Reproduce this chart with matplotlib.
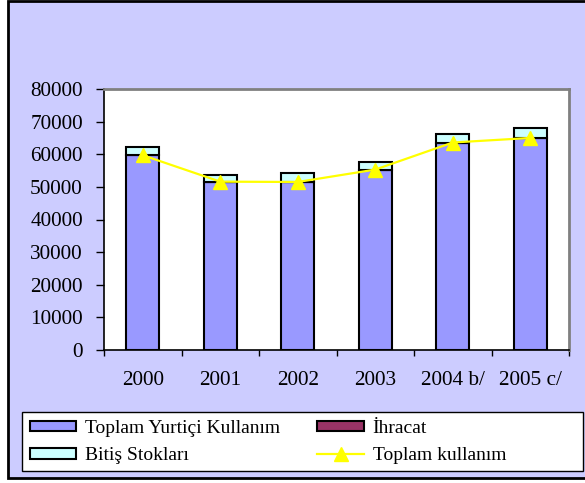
import matplotlib
matplotlib.use("Agg")
import matplotlib.pyplot as plt
from matplotlib.patches import Rectangle
from matplotlib.lines import Line2D
import numpy as np

categories = ["2000", "2001", "2002", "2003", "2004 b/", "2005 c/"]
yurtici = [59700, 51600, 51500, 55300, 63600, 65000]
ihracat = [0, 0, 0, 0, 0, 0]
stok = [2500, 2000, 2600, 2400, 2600, 3100]
toplam = [59700, 51600, 51500, 55300, 63600, 65000]

plt.rcParams['font.family'] = ['Liberation Serif', 'DejaVu Serif']

fig = plt.figure(figsize=(5.85, 4.83), dpi=100, facecolor='white')
W, H = 585, 483
bg = Rectangle((8 / W, 1 - 478 / H), 1.2, (478 - 1) / H, transform=fig.transFigure,
               facecolor='#CCCCFF', edgecolor='black', linewidth=2, zorder=-10)
fig.patches.append(bg)
legbox = Rectangle((22 / W, 1 - 471 / H), (583 - 22) / W, (471 - 412) / H, transform=fig.transFigure,
                   facecolor='white', edgecolor='black', linewidth=1, zorder=-5)
fig.patches.append(legbox)

ax = fig.add_axes([104 / W, 1 - 350 / H, (569 - 104) / W, (350 - 89) / H])
ax.set_facecolor('white')
x = np.arange(len(categories))
bw = 0.42
ax.bar(x, yurtici, bw, color='#9999FF', edgecolor='black', linewidth=1.5, zorder=2)
ax.bar(x, ihracat, bw, bottom=yurtici, color='#993366', edgecolor='black', linewidth=1.5, zorder=2)
bot2 = np.array(yurtici) + np.array(ihracat)
ax.bar(x, stok, bw, bottom=bot2, color='#CCFFFF', edgecolor='black', linewidth=1.5, zorder=2)
ax.plot(x, toplam, color='#FFFF00', linewidth=1.6, marker='^', markersize=10,
        markerfacecolor='#FFFF00', markeredgecolor='#FFFF00', zorder=3)

ax.set_xlim(-0.5, 5.5)
ax.set_ylim(0, 80000)
ax.set_yticks(np.arange(0, 80001, 10000))
ax.set_yticklabels([str(v) for v in range(0, 80001, 10000)], fontsize=15.3)
ax.set_xticks(x)
ax.set_xticklabels(categories, fontsize=15.3)
ax.set_xticks(np.arange(-0.5, 5.6, 1), minor=True)
ax.tick_params(axis='x', which='major', length=0, pad=15)
ax.tick_params(axis='x', which='minor', length=4.5, direction='out', width=1)
ax.tick_params(axis='y', which='major', length=5.8, direction='out', width=1, pad=9.4)
for s in ['top', 'right']:
    ax.spines[s].set_color('#808080')
    ax.spines[s].set_linewidth(2)
for s in ['left', 'bottom']:
    ax.spines[s].set_color('black')
    ax.spines[s].set_linewidth(1.2)

handles = [
    Rectangle((0, 0), 1, 1, facecolor='#9999FF', edgecolor='black', linewidth=1.5),
    Rectangle((0, 0), 1, 1, facecolor='#CCFFFF', edgecolor='black', linewidth=1.5),
    Rectangle((0, 0), 1, 1, facecolor='#993366', edgecolor='black', linewidth=1.5),
    Line2D([0], [0], color='#FFFF00', linewidth=1.6, marker='^', markersize=10,
           markerfacecolor='#FFFF00', markeredgecolor='#FFFF00'),
]
labels = ["Toplam Yurtiçi Kullanım", "Bitiş Stokları", "İhracat", "Toplam kullanım"]
leg = fig.legend(handles, labels, ncol=2, loc='upper left',
                 bbox_to_anchor=(22 / W, 1 - 412 / H),
                 fontsize=14, frameon=False,
                 handlelength=2.4, handleheight=0.45, handletextpad=0.45,
                 borderaxespad=0, borderpad=0.4, labelspacing=0.55, columnspacing=1.9)

fig.savefig('out.png', dpi=100, facecolor=fig.get_facecolor())
